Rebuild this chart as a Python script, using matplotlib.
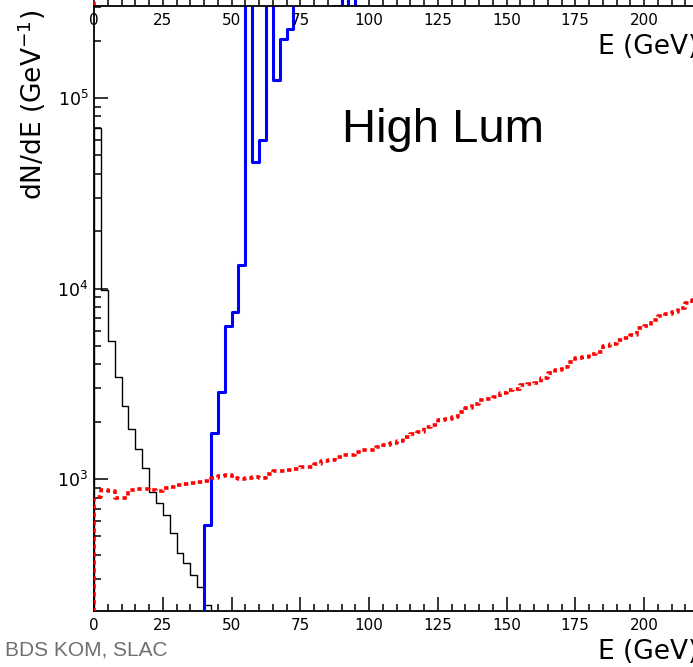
import numpy as np
import matplotlib
matplotlib.use('Agg')
import matplotlib.pyplot as plt
from matplotlib.ticker import MultipleLocator, FixedLocator, LogLocator, NullFormatter

# bins de 2.5 GeV
ancho = 2.5

# histograma negro (fotones de baja energia)
negro_vals = [69600, 9820, 5300, 3430, 2415, 1830, 1436, 1143, 855, 748,
              647, 521, 409, 363, 313, 271, 218, 0, 0, 0]

# histograma azul (pico alto, lo que pasa de 3e5 queda fuera)
azul_inicio = 40.0
azul_vals = [574, 1743, 2863, 6355, 7530, 13280, 5e5, 46100, 60200, 5e5,
             124000, 204000, 230000, 5e5]

# histograma rojo (punteado)
rojo_vals = [805, 875, 865, 795, 795, 875, 886, 886, 875, 865,
             897, 908, 930, 941, 953, 964, 976, 1012, 1037, 1050,
             1012, 1000, 1012, 1024, 1012, 1062, 1102, 1102, 1115, 1128,
             1156, 1156, 1199, 1243, 1258, 1305, 1337, 1337, 1386, 1420,
             1420, 1472, 1508, 1545, 1582, 1662, 1723, 1764, 1874, 1920,
             2038, 2063, 2115, 2247, 2358, 2475, 2597, 2630, 2694, 2828,
             2934, 2970, 3117, 3154, 3192, 3390, 3600, 3735, 3874, 4110,
             4315, 4370, 4530, 4640, 4990, 5110, 5360, 5490, 5700, 6200,
             6350, 6830, 7170, 7340, 7520, 7900, 8400, 8700]

# etiquetas del eje x (las que se ven antes del corte)
x_etiquetas = [0, 25, 50, 75, 100, 125, 150, 175, 200]

# panel de arriba: solo se ven unos bordes azules y el rojo en E=0
arriba_azul_bordes = [87.5, 90.0, 92.5, 95.0, 97.5]
arriba_azul_vals = [0, 2, 0, 2]

W, H = 693, 667


def escalon(inicio, vals):
    # arma los puntos de un histograma tipo escalon que sube desde cero
    bordes = inicio + ancho * np.arange(len(vals) + 1)
    x = np.concatenate([[bordes[0]], bordes])
    y = np.concatenate([[0], vals, [vals[-1]]])
    return x, y


fig = plt.figure(figsize=(W / 100, H / 100), dpi=100)
ax = fig.add_axes([94 / W, 56 / H, 687.5 / W, 605 / H])
ax.set_yscale('log', nonpositive='clip')
ax.set_xlim(0, 250)
ax.set_ylim(203, 3.04e5)

x, y = escalon(0.0, negro_vals)
ax.step(x, y, where='post', color='black', lw=1.0, zorder=3)
x, y = escalon(azul_inicio, azul_vals)
ax.step(x, y, where='post', color='#0000ff', lw=2.2, zorder=4)
x, y = escalon(0.0, rojo_vals)
ax.step(x, y, where='post', color='#ff0000', lw=2.6,
        linestyle=(0, (1.2, 1.0)), zorder=5)

ax.spines['top'].set_visible(False)
ax.spines['right'].set_visible(False)
for s in ('left', 'bottom'):
    ax.spines[s].set_linewidth(1.3)
ax.xaxis.set_major_locator(FixedLocator(x_etiquetas))
ax.xaxis.set_minor_locator(MultipleLocator(5))
ax.yaxis.set_major_locator(LogLocator(base=10))
ax.yaxis.set_minor_locator(LogLocator(base=10, subs=np.arange(2, 10)))
ax.yaxis.set_minor_formatter(NullFormatter())
ax.tick_params(which='both', direction='in', top=False, right=False, width=1.1)
ax.tick_params(which='major', length=10, labelsize=11, pad=5)
ax.tick_params(axis='y', which='major', labelsize=12.5, pad=4)
ax.tick_params(which='minor', length=5)

# eje inferior del panel de arriba (se ve cortado arriba de la imagen)
ax2 = fig.add_axes([94 / W, 661 / H, 687.5 / W, 0.2])
ax2.set_facecolor('none')
ax2.set_xlim(0, 250)
ax2.set_ylim(0, 1)
ax2.step(arriba_azul_bordes, arriba_azul_vals + [arriba_azul_vals[-1]],
         where='post', color='#0000ff', lw=2.2)
ax2.plot([0, 0], [0, 1], color='#ff0000', lw=2.6, linestyle=(0, (1.2, 1.0)))
for s in ('top', 'right', 'left'):
    ax2.spines[s].set_visible(False)
ax2.spines['bottom'].set_linewidth(1.3)
ax2.set_yticks([])
ax2.xaxis.set_major_locator(FixedLocator(x_etiquetas))
ax2.xaxis.set_minor_locator(MultipleLocator(5))
ax2.tick_params(which='both', direction='in', width=1.1)
ax2.tick_params(which='major', length=7, labelsize=11, pad=5)
ax2.tick_params(which='minor', length=4)

# textos
fig.text(32 / W, 1 - 10 / H, 'dN/dE (GeV$^{-1}$)', rotation=90, fontsize=19,
         ha='center', va='top')
fig.text(598 / W, 1 - 47 / H, 'E (GeV)', fontsize=19, va='center')
fig.text(598 / W, 1 - 652 / H, 'E (GeV)', fontsize=19, va='center')
fig.text(342 / W, 1 - 142 / H, 'High Lum', fontsize=34,
         family='Liberation Sans', ha='left', va='baseline')
fig.text(5 / W, 1 - 650 / H, 'BDS KOM, SLAC', fontsize=15, color='#707070',
         family='Liberation Sans', va='center')

fig.savefig('out.png', dpi=100)
